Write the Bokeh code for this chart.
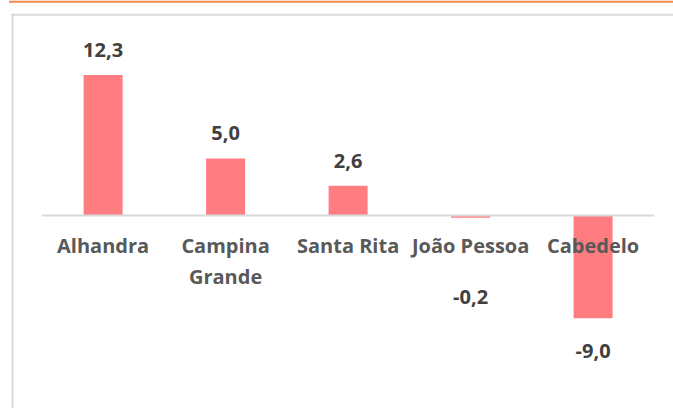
from bokeh.plotting import figure
from bokeh.models import ColumnDataSource, Range1d, BoxAnnotation
from bokeh.core.properties import value
from bokeh.embed import file_html
from bokeh.resources import INLINE

# ---- data ----
categories = ["Alhandra", "Campina\nGrande", "Santa Rita", "João Pessoa", "Cabedelo"]
values = [12.3, 5.0, 2.6, -0.2, -9.0]

# ---- layout / style constants (pixels) ----
W, H = 673, 408
XS = 122.5          # px per category
YS = 11.42          # px per unit
X0 = -102.6 / XS
X1 = X0 + W / XS
Y1 = 215.0 / YS
Y0 = Y1 - H / YS
label_offsets = [-25, -25, -25, 79, 33]   # px from bar end to label anchor
cat_first_offset = 30
cat_line_gap = 31

BAR = "#FF7C80"
FONT = "Open Sans"

def xd(px):
    return X0 + px / XS

def yd(px):
    return Y1 - px / YS

p = figure(width=W, height=H, output_backend="svg", toolbar_location=None,
           x_range=Range1d(X0, X1), y_range=Range1d(Y0, Y1),
           x_axis_location=None, y_axis_location=None,
           min_border=0, outline_line_color=None)
p.grid.visible = False
p.background_fill_color = "white"
p.border_fill_color = "white"

# chart frame decorations
p.add_layout(BoxAnnotation(left=xd(8.5), right=X1, top=Y1, bottom=yd(2.2),
                           fill_color="#ED7D31", fill_alpha=0.9, line_color=None))
p.add_layout(BoxAnnotation(left=xd(11), right=xd(13), top=yd(13.3), bottom=Y0,
                           fill_color="#D9D9D9", fill_alpha=1, line_color=None))
p.add_layout(BoxAnnotation(left=xd(11), right=X1, top=yd(13.3), bottom=yd(15.2),
                           fill_color="#D9D9D9", fill_alpha=1, line_color=None))

idx = list(range(len(categories)))
src = ColumnDataSource(dict(
    x=idx, top=values,
    label=[f"{v:.1f}".replace(".", ",") for v in values],
    off=label_offsets,
))

p.vbar(x="x", top="top", bottom=0, width=39 / XS, source=src,
       fill_color=BAR, line_color=None)

# zero axis line
n = len(categories)
p.segment(x0=[-0.5], y0=[0], x1=[n - 0.5], y1=[0], line_color="#D9D9D9", line_width=1.8)

# value labels
p.text(x="x", y="top", text="label", y_offset="off", source=src,
       text_font=value(FONT), text_font_style="bold", text_font_size="20px",
       text_color="#404040", text_align="center", text_baseline="alphabetic")

# category labels
cx, cy, ct, co = [], [], [], []
for i, c in enumerate(categories):
    for j, line in enumerate(c.split("\n")):
        cx.append(i)
        cy.append(0)
        ct.append(line)
        co.append(cat_first_offset + cat_line_gap * j)
p.text(x=cx, y=cy, text=ct, y_offset=co,
       text_font=value(FONT), text_font_style="bold", text_font_size="20px",
       text_color="#595959", text_align="center", text_baseline="alphabetic")

open("out.html", "w").write(file_html(p, INLINE))
